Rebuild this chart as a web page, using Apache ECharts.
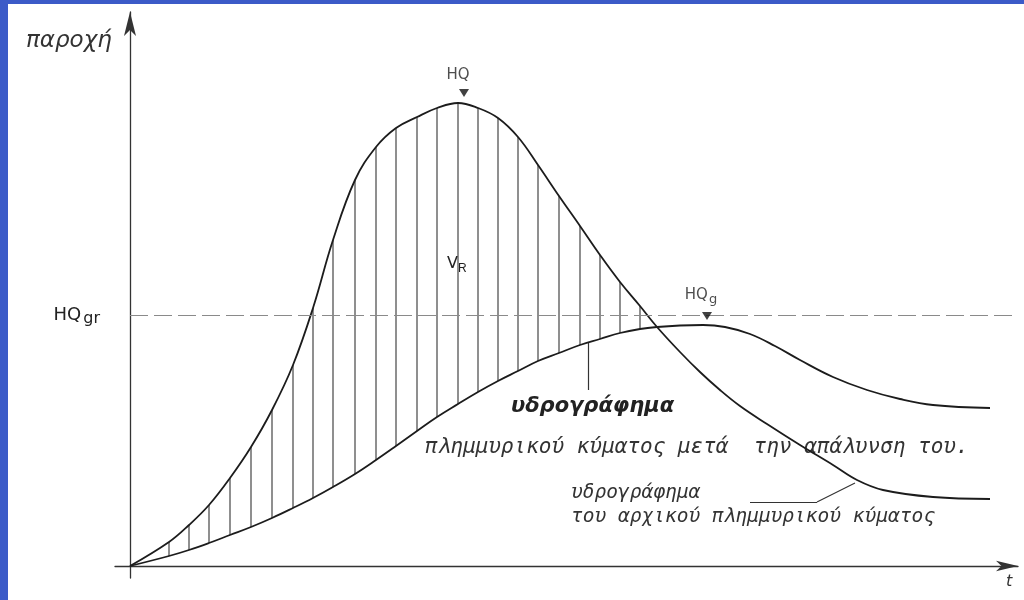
<!DOCTYPE html>
<html>
<head>
<meta charset="utf-8">
<style>
  html, body { margin: 0; padding: 0; background: #ffffff; }
  #chart { width: 1024px; height: 600px; }
</style>
<script src="https://cdn.jsdelivr.net/npm/echarts@6/dist/echarts.min.js"></script>
</head>
<body>
<div id="chart"></div>
<script>
// hydrograph: original flood wave vs attenuated one (schematic units)
var time = [0, 39, 59, 79, 100, 121, 142, 163, 183, 203, 225, 246, 266, 287, 307, 328,
            348, 368, 388, 408, 429, 450, 470, 490, 510, 527];
var inflow = [0, 24, 41, 61, 88, 119, 156, 201, 258, 326, 386, 419, 438, 449, 458, 463,
              458, 448, 429, 401, 370, 340, 311, 284, 260, 239];
var outflow = [0, 10, 16, 23, 31, 39, 48, 58, 68, 79, 92, 106, 120, 135, 149, 162,
               174, 185, 195, 205, 213, 221, 227, 233, 237, 239];
var inflowTail = [[550, 214], [570, 194], [590, 176], [610, 160], [637, 142], [670, 121],
                  [703, 101], [727, 86], [753, 76], [803, 69], [860, 67]];
var outflowTail = [[550, 240.5], [573, 241], [595, 239], [620, 232], [645, 220], [670, 206],
                   [703, 189], [737, 176], [770, 167], [803, 161], [860, 158]];
var hatchFrom = 1, hatchTo = 24;   // indices of time[] that carry a hatch line
var hqGr = 251;
var peaks = [
    { name: 'HQ', value: [334, 473] },
    { name: 'HQg', value: [577, 250] }
];

var dom = document.getElementById('chart');
var myChart = echarts.init(dom);

var ink = '#1c1c1c';
var font = 'DejaVu Sans';
var mono = 'DejaVu Sans Mono';

var inflowData = time.map(function (t, i) { return [t, inflow[i]]; }).concat(inflowTail);
var outflowData = time.map(function (t, i) { return [t, outflow[i]]; }).concat(outflowTail);
var hatchData = [];
for (var i = hatchFrom; i <= hatchTo; i++) {
    hatchData.push([time[i], outflow[i], inflow[i]]);
}

var leader = { color: '#333', width: 1.2, type: 'solid' };

var option = {
    animation: false,
    backgroundColor: '#ffffff',
    grid: { left: 115, right: 6, top: 12, bottom: 22 },
    xAxis: {
        type: 'value', min: -15, max: 888,
        axisLine: { onZero: true, symbol: ['none', 'arrow'], symbolSize: [8, 22],
                    lineStyle: { color: '#333', width: 1.3 } },
        axisTick: { show: false }, axisLabel: { show: false }, splitLine: { show: false }
    },
    yAxis: {
        type: 'value', min: -12, max: 554,
        axisLine: { onZero: true, symbol: ['none', 'arrow'], symbolSize: [9, 24],
                    lineStyle: { color: '#333', width: 1.3 } },
        axisTick: { show: false }, axisLabel: { show: false }, splitLine: { show: false }
    },
    graphic: [
        { type: 'rect', shape: { x: 0, y: 0, width: 8, height: 600 }, style: { fill: '#3c5bc8' }, z: 100 },
        { type: 'rect', shape: { x: 0, y: 0, width: 1024, height: 4 }, style: { fill: '#3c5bc8' }, z: 100 },
        { type: 'text', left: 26, top: 30,
          style: { text: 'παροχή', font: 'italic 23px "' + font + '"', fill: '#333' } },
        { type: 'text', left: 1006, top: 574,
          style: { text: 't', font: 'italic 16px "' + font + '"', fill: '#333' } },
        { type: 'text', left: 447, top: 256,
          style: { text: 'V{s|R}', font: '16px "' + font + '"', fill: '#222',
                   rich: { s: { fontSize: 12, padding: [10, 0, 0, 0], fill: '#222' } } } },
        { type: 'text', left: 511, top: 396,
          style: { text: 'υδρογράφημα', font: 'italic bold 21px "' + font + '"', fill: '#222' } },
        { type: 'text', left: 425, top: 437,
          style: { text: 'πλημμυρικού κύματος μετά  την απάλυνση του.', font: 'italic 21px "' + mono + '"', fill: '#333' } },
        { type: 'text', left: 571, top: 483,
          style: { text: 'υδρογράφημα', font: 'italic 19.5px "' + mono + '"', fill: '#333' } },
        { type: 'text', left: 571, top: 507,
          style: { text: 'του αρχικού πλημμυρικού κύματος', font: 'italic 19.5px "' + mono + '"', fill: '#333' } }
    ],
    series: [
        {
            type: 'custom',
            data: hatchData,
            renderItem: function (params, api) {
                var lo = api.coord([api.value(0), api.value(1)]);
                var hi = api.coord([api.value(0), api.value(2)]);
                return {
                    type: 'line',
                    shape: { x1: lo[0], y1: lo[1], x2: hi[0], y2: hi[1] },
                    style: { stroke: '#333', lineWidth: 1.1 }
                };
            },
            z: 1
        },
        {
            type: 'line',
            data: inflowData,
            smooth: 0.4,
            showSymbol: false,
            lineStyle: { color: ink, width: 1.8 },
            z: 3
        },
        {
            type: 'line',
            data: outflowData,
            smooth: 0.4,
            showSymbol: false,
            lineStyle: { color: ink, width: 1.8 },
            z: 3,
            markLine: {
                silent: true,
                symbol: 'none',
                data: [
                    [{ coord: [0, hqGr],
                       lineStyle: { color: '#8a8a8a', width: 1.2, type: [18, 6] },
                       label: { show: true, position: 'start', distance: 30,
                                formatter: 'HQ{s|gr}', color: '#222',
                                fontFamily: font, fontSize: 18,
                                rich: { s: { fontSize: 16, fontFamily: font, color: '#222', padding: [7, 0, 0, 2] } } } },
                     { coord: [888, hqGr] }],
                    [{ coord: [458, 223], lineStyle: leader, label: { show: false } }, { coord: [458, 176] }],
                    [{ coord: [620, 64], lineStyle: leader, label: { show: false } }, { coord: [687, 64] }],
                    [{ coord: [687, 64], lineStyle: leader, label: { show: false } }, { coord: [725, 83] }]
                ]
            }
        },
        {
            type: 'scatter',
            data: peaks,
            symbol: 'triangle',
            symbolRotate: 180,
            symbolSize: [10, 8],
            itemStyle: { color: '#111' },
            label: {
                show: true, position: 'top', distance: 6, offset: [-6, 0],
                color: '#222', fontFamily: font, fontSize: 15,
                formatter: function (p) {
                    return p.name === 'HQg' ? 'HQ{s|g}' : 'HQ';
                },
                rich: { s: { fontSize: 13, fontFamily: font, color: '#222', padding: [9, 0, 0, 1] } }
            },
            z: 5
        }
    ]
};

if (option && typeof option === 'object') {
    myChart.setOption(option);
}
</script>
</body>
</html>
